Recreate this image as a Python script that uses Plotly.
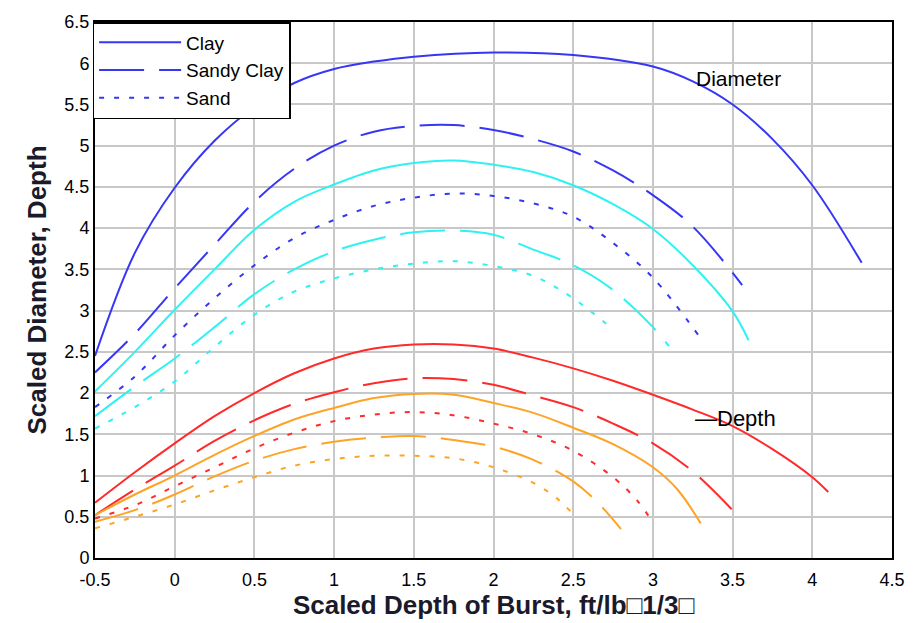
import plotly.graph_objects as go

# ---- data ----
clay_diam_x = [-0.5, -0.25, 0, 0.25, 0.5, 0.75, 1.0, 1.25, 1.5, 2.0, 2.5, 3.0, 3.25, 3.5, 3.75, 4.0, 4.31]
clay_diam_y = [2.45, 3.7, 4.49, 5.06, 5.47, 5.76, 5.93, 6.02, 6.08, 6.13, 6.1, 5.96, 5.78, 5.5, 5.08, 4.52, 3.58]

sclay_diam_x = [-0.5, -0.25, 0, 0.25, 0.5, 0.75, 1.0, 1.25, 1.5, 1.75, 2.0, 2.25, 2.5, 2.75, 3.0, 3.25, 3.56]
sclay_diam_y = [2.25, 2.72, 3.27, 3.8, 4.32, 4.72, 5.0, 5.17, 5.24, 5.25, 5.19, 5.08, 4.93, 4.7, 4.4, 4.02, 3.31]

sand_diam_x = [-0.5, -0.25, 0, 0.25, 0.5, 0.75, 1.0, 1.25, 1.5, 1.75, 2.0, 2.25, 2.5, 2.75, 3.0, 3.29]
sand_diam_y = [1.83, 2.2, 2.7, 3.15, 3.55, 3.88, 4.1, 4.27, 4.37, 4.42, 4.39, 4.3, 4.14, 3.82, 3.4, 2.69]

clay_diam2_x = [-0.5, -0.25, 0, 0.25, 0.5, 0.75, 1.0, 1.25, 1.5, 1.75, 2.0, 2.25, 2.5, 2.75, 3.0, 3.25, 3.5, 3.6]
clay_diam2_y = [2.02, 2.5, 3.01, 3.5, 3.98, 4.32, 4.53, 4.7, 4.79, 4.82, 4.77, 4.68, 4.52, 4.29, 3.99, 3.55, 2.99, 2.64]

sclay_diam2_x = [-0.5, -0.25, 0, 0.25, 0.5, 0.75, 1.0, 1.25, 1.5, 1.75, 2.0, 2.25, 2.5, 2.75, 3.0, 3.1]
sclay_diam2_y = [1.72, 2.08, 2.42, 2.8, 3.2, 3.5, 3.72, 3.86, 3.95, 3.97, 3.92, 3.74, 3.55, 3.25, 2.8, 2.57]

sand_diam2_x = [-0.5, -0.25, 0, 0.25, 0.5, 0.75, 1.0, 1.25, 1.5, 1.75, 2.0, 2.25, 2.5, 2.75]
sand_diam2_y = [1.57, 1.83, 2.14, 2.56, 2.95, 3.23, 3.39, 3.5, 3.57, 3.6, 3.54, 3.42, 3.15, 2.77]

clay_depth_x = [-0.5, -0.25, 0, 0.25, 0.5, 0.75, 1.0, 1.25, 1.5, 1.75, 2.0, 2.25, 2.5, 2.75, 3.0, 3.25, 3.5, 3.75, 4.0, 4.1]
clay_depth_y = [0.67, 1.04, 1.39, 1.72, 2.0, 2.24, 2.42, 2.54, 2.59, 2.59, 2.54, 2.43, 2.3, 2.15, 1.98, 1.8, 1.6, 1.32, 0.98, 0.8]

sclay_depth_x = [-0.5, -0.25, 0, 0.25, 0.5, 0.75, 1.0, 1.25, 1.5, 1.75, 2.0, 2.25, 2.5, 2.75, 3.0, 3.25, 3.5]
sclay_depth_y = [0.52, 0.83, 1.12, 1.42, 1.67, 1.87, 2.01, 2.12, 2.18, 2.17, 2.1, 1.97, 1.83, 1.63, 1.39, 1.05, 0.58]

sand_depth_x = [-0.5, -0.25, 0, 0.25, 0.5, 0.75, 1.0, 1.25, 1.5, 1.75, 2.0, 2.25, 2.5, 2.75, 2.9, 3.0]
sand_depth_y = [0.48, 0.64, 0.87, 1.1, 1.33, 1.52, 1.66, 1.74, 1.77, 1.73, 1.63, 1.5, 1.3, 0.98, 0.7, 0.43]

clay_depth2_x = [-0.5, -0.25, 0, 0.25, 0.5, 0.75, 1.0, 1.25, 1.5, 1.75, 2.0, 2.25, 2.5, 2.75, 3.0, 3.15, 3.3]
clay_depth2_y = [0.52, 0.77, 1.0, 1.25, 1.48, 1.68, 1.82, 1.94, 1.99, 1.98, 1.88, 1.76, 1.58, 1.38, 1.1, 0.84, 0.42]

sclay_depth2_x = [-0.5, -0.25, 0, 0.25, 0.5, 0.75, 1.0, 1.25, 1.5, 1.75, 2.0, 2.25, 2.5, 2.65, 2.8]
sclay_depth2_y = [0.44, 0.58, 0.77, 0.99, 1.18, 1.32, 1.41, 1.46, 1.48, 1.43, 1.35, 1.19, 0.93, 0.68, 0.35]

sand_depth2_x = [-0.5, -0.25, 0, 0.25, 0.5, 0.75, 1.0, 1.25, 1.5, 1.75, 2.0, 2.25, 2.4, 2.5]
sand_depth2_y = [0.36, 0.5, 0.65, 0.82, 0.98, 1.12, 1.2, 1.24, 1.24, 1.21, 1.1, 0.91, 0.72, 0.53]

legend_names = ["Clay", "Sandy Clay", "Sand"]
x_ticks = [-0.5, 0, 0.5, 1, 1.5, 2, 2.5, 3, 3.5, 4, 4.5]
x_tick_labels = ["-0.5", "0", "0.5", "1", "1.5", "2", "2.5", "3", "3.5", "4", "4.5"]
y_ticks = [0, 0.5, 1, 1.5, 2, 2.5, 3, 3.5, 4, 4.5, 5, 5.5, 6, 6.5]
y_tick_labels = ["0", "0.5", "1", "1.5", "2", "2.5", "3", "3.5", "4", "4.5", "5", "5.5", "6", "6.5"]

BLUE = "#3636f5"
CYAN = "#2ef2f2"
RED = "#ff2a2a"
ORANGE = "#ffa326"
DASHES = ["solid", "45px,15px", "5px,10px"]

series = [
    (clay_diam_x, clay_diam_y, BLUE, 0, True),
    (sclay_diam_x, sclay_diam_y, BLUE, 1, True),
    (sand_diam_x, sand_diam_y, BLUE, 2, True),
    (clay_diam2_x, clay_diam2_y, CYAN, 0, False),
    (sclay_diam2_x, sclay_diam2_y, CYAN, 1, False),
    (sand_diam2_x, sand_diam2_y, CYAN, 2, False),
    (clay_depth_x, clay_depth_y, RED, 0, False),
    (sclay_depth_x, sclay_depth_y, RED, 1, False),
    (sand_depth_x, sand_depth_y, RED, 2, False),
    (clay_depth2_x, clay_depth2_y, ORANGE, 0, False),
    (sclay_depth2_x, sclay_depth2_y, ORANGE, 1, False),
    (sand_depth2_x, sand_depth2_y, ORANGE, 2, False),
]

fig = go.Figure()
for xs, ys, col, k, show in series:
    fig.add_trace(go.Scatter(
        x=xs, y=ys, mode="lines", name=legend_names[k],
        line=dict(color=col, width=2, dash=DASHES[k], shape="spline", smoothing=1.0),
        showlegend=show, hoverinfo="skip",
    ))

FONT = "Liberation Sans, Arial, sans-serif"

fig.add_annotation(x=3.54, y=5.82, text="Diameter", showarrow=False,
                   font=dict(family=FONT, size=21, color="black"), xanchor="center", yanchor="middle")
fig.add_annotation(x=3.25, y=1.69, text="\u2014Depth", showarrow=False,
                   font=dict(family=FONT, size=22, color="black"), xanchor="left", yanchor="middle")

fig.update_layout(
    width=917, height=623,
    margin=dict(l=95, r=19, t=18, b=65),
    paper_bgcolor="white", plot_bgcolor="white",
    font=dict(family=FONT, size=18, color="black"),
    legend=dict(x=-0.003, y=1.0, xanchor="left", yanchor="top",
                bgcolor="white", bordercolor="black", borderwidth=1.5,
                font=dict(family=FONT, size=19, color="black"),
                itemwidth=82, entrywidth=210, entrywidthmode="pixels",
                traceorder="normal", tracegroupgap=0),
    xaxis=dict(range=[-0.5, 4.5], tickvals=x_ticks, ticktext=x_tick_labels,
               showgrid=True, gridcolor="#c8c8c8", gridwidth=1.5,
               showline=True, linecolor="black", linewidth=2, mirror=True,
               zeroline=False, ticks="", ticklen=0, ticklabelstandoff=4,
               tickfont=dict(family=FONT, size=18, color="black"),
               title=dict(text="<b>Scaled Depth of Burst, ft/lb\u25a11/3\u25a1</b>",
                          font=dict(family=FONT, size=26, color="#1a1a2a"), standoff=2)),
    yaxis=dict(range=[0, 6.5], tickvals=y_ticks, ticktext=y_tick_labels,
               showgrid=True, gridcolor="#c8c8c8", gridwidth=1.5,
               showline=True, linecolor="black", linewidth=2, mirror=True,
               zeroline=False, ticks="", ticklen=0,
               tickfont=dict(family=FONT, size=18, color="black"),
               title=dict(text="<b>Scaled Diameter, Depth</b>",
                          font=dict(family=FONT, size=26, color="#1a1a2a"), standoff=10)),
)

fig.write_html("out.html")
